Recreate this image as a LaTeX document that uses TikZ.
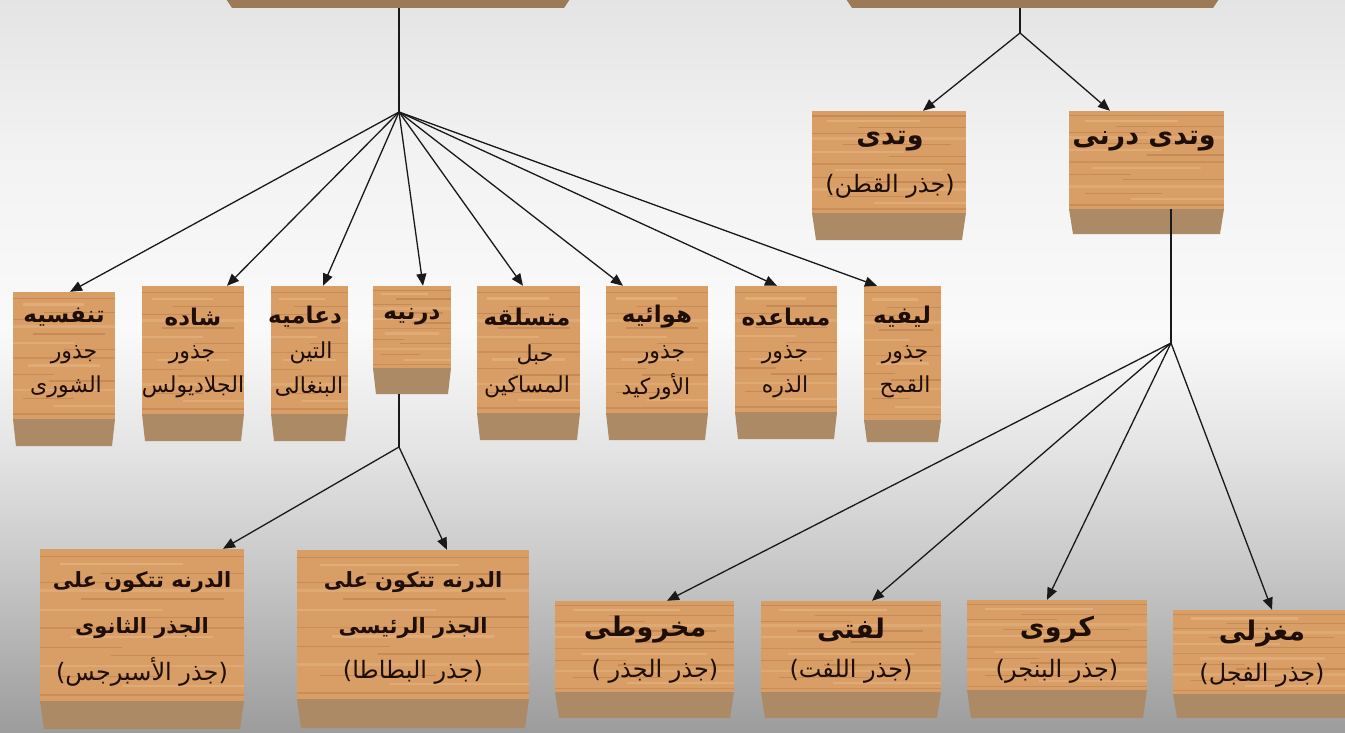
\documentclass[tikz,border=0pt]{standalone}
\usepackage{fontspec}
\newfontfamily\arabicfont[Script=Arabic]{DejaVu Sans}
\TeXXeTstate=1
\usetikzlibrary{arrows.meta,calc}
\definecolor{woodc}{RGB}{216,158,102}
\definecolor{woodd}{RGB}{166,104,56}
\definecolor{woodl}{RGB}{236,192,142}
\definecolor{sidec}{RGB}{172,138,102}
\definecolor{sidet}{RGB}{156,122,88}
\definecolor{txtc}{RGB}{30,14,6}
\definecolor{bga}{RGB}{228,228,228}
\definecolor{bgb}{RGB}{242,242,242}
\definecolor{bgc}{RGB}{250,250,250}
\definecolor{bgd}{RGB}{228,228,228}
\definecolor{bge}{RGB}{202,202,202}
\definecolor{bgf}{RGB}{156,156,156}
\newcommand\rp{\hbox{)}}
\newcommand\lp{\hbox{(}}
\tikzset{
  ln/.style={line width=1.3pt, draw=black!90},
  arr/.style={line width=1.3pt, draw=black!90, -{Triangle[length=12pt,width=10pt]}},
  face/.style={draw=none, fill=woodc, inner sep=0pt, path picture={
    \foreach \f/\a/\b/\o/\w/\c in {0.05/0/1/0.35/1.2/woodd, 0.10/0.1/0.7/0.45/2.5/woodl, 0.16/0.3/1/0.35/1.5/woodd, 0.22/0/0.5/0.35/1/woodd, 0.27/0/1/0.35/3/woodl, 0.33/0.2/0.9/0.35/1.5/woodd, 0.40/0/0.6/0.4/2/woodl, 0.45/0.5/1/0.35/1.2/woodd, 0.52/0/1/0.25/1.5/woodd, 0.58/0.15/0.85/0.4/2.5/woodl, 0.65/0/0.4/0.35/1.2/woodd, 0.70/0.35/1/0.35/1.8/woodd, 0.77/0/1/0.35/2.5/woodl, 0.84/0.1/0.6/0.35/1.2/woodd, 0.90/0.4/1/0.4/2/woodl, 0.96/0/1/0.3/1.5/woodd}{
      \draw[\c, opacity=\o, line width=\w pt]
        let \p1=(path picture bounding box.north west), \p2=(path picture bounding box.south east) in
        ({\x1+\a*(\x2-\x1)},{\y1+\f*(\y2-\y1)}) -- ({\x1+\b*(\x2-\x1)},{\y1+\f*(\y2-\y1)});
    }}},
  ttl/.style={font={\arabicfont\bfseries\fontsize{23}{26}\selectfont}, text=txtc, inner sep=0pt},
  sub/.style={font={\arabicfont\fontsize{22}{26}\selectfont}, text=txtc, inner sep=0pt},
  lttl/.style={font={\arabicfont\bfseries\fontsize{21}{24}\selectfont}, text=txtc, inner sep=0pt},
  lsub/.style={font={\arabicfont\fontsize{24}{28}\selectfont}, text=txtc, inner sep=0pt},
  bttl/.style={font={\arabicfont\bfseries\fontsize{27}{30}\selectfont}, text=txtc, inner sep=0pt},
  bsub/.style={font={\arabicfont\fontsize{24}{28}\selectfont}, text=txtc, inner sep=0pt},
}
% name, x1, x2, ytop, yface, ybot, inset, side colour
\newcommand\woodbox[8]{%
  \fill[#8] (#2,#5) -- (#3,#5) -- (#3-#7,#6) -- (#2+#7,#6) -- cycle;
  \node[face, minimum width={(#3-#2)*1pt}, minimum height={(#5-#4)*1pt}] (#1) at ({(#2+#3)/2},{(#4+#5)/2}) {};
  \coordinate (#1-b) at ({(#2+#3)/2},#6);
  \coordinate (#1-f) at ({(#2+#3)/2},#5);
}
\newcommand\tl[5]{\node[#4] (#1) at (#2,#3) {#5};}
\begin{document}
\begin{tikzpicture}[x=1pt,y=-1pt]
\useasboundingbox (0,0) rectangle (1345,733);
% background
\shade[top color=bga, bottom color=bgb] (0,0) rectangle (1345,150);
\shade[top color=bgb, bottom color=bgc] (0,149.5) rectangle (1345,330);
\shade[top color=bgc, bottom color=bgd] (0,329.5) rectangle (1345,450);
\shade[top color=bgd, bottom color=bge] (0,449.5) rectangle (1345,560);
\shade[top color=bge, bottom color=bgf] (0,559.5) rectangle (1345,733);

% boxes
\woodbox{TL}{226}{570}{-60}{-1}{8}{6}{sidet}
\woodbox{TR}{846}{1219}{-60}{-1}{8}{6}{sidet}
\woodbox{wd}{812}{966}{111}{213}{240}{4}{sidec}
\woodbox{wdd}{1069}{1224}{111}{209}{234}{4}{sidec}
\woodbox{m1}{13}{115}{292}{419}{446}{3}{sidec}
\woodbox{m2}{142}{244}{286}{414}{441}{3}{sidec}
\woodbox{m3}{271}{348}{286}{414}{441}{3}{sidec}
\woodbox{m4}{373}{451}{286}{368}{394}{3}{sidec}
\woodbox{m5}{477}{580}{286}{413}{440}{3}{sidec}
\woodbox{m6}{606}{708}{286}{413}{440}{3}{sidec}
\woodbox{m7}{735}{837}{286}{412}{439}{3}{sidec}
\woodbox{m8}{864}{941}{286}{420}{442}{3}{sidec}
\woodbox{bl1}{40}{244}{549}{701}{729}{4}{sidec}
\woodbox{bl2}{297}{529}{550}{699}{728}{4}{sidec}
\woodbox{br1}{555}{734}{601}{692}{718}{4}{sidec}
\woodbox{br2}{761}{941}{601}{692}{718}{4}{sidec}
\woodbox{br3}{967}{1147}{600}{690}{718}{4}{sidec}
\woodbox{br4}{1173}{1352}{610}{694}{718}{4}{sidec}

% texts
\tl{wdT}{890}{141}{bttl}{\beginR وتدى\endR}
\tl{wdS}{890}{186}{bsub}{\beginR \lp جذر القطن\rp\endR}
\tl{wddT}{1144}{141}{bttl}{\beginR وتدى درنى\endR}

\tl{m1T}{64}{317}{ttl}{\beginR تنفسيه\endR}
\tl{m1A}{74}{355}{sub}{\beginR جذور\endR}
\tl{m1B}{66}{387}{sub}{\beginR الشورى\endR}
\tl{m2T}{193}{317}{ttl}{\beginR شاده\endR}
\tl{m2A}{192}{355}{sub}{\beginR جذور\endR}
\tl{m2B}{193}{387}{sub}{\beginR الجلاديولس\endR}
\tl{m3T}{305}{317}{ttl}{\beginR دعاميه\endR}
\tl{m3A}{311}{353}{sub}{\beginR التين\endR}
\tl{m3B}{309}{387}{sub}{\beginR البنغالى\endR}
\tl{m4T}{412}{317}{ttl}{\beginR درنيه\endR}
\tl{m5T}{527}{317}{ttl}{\beginR متسلقه\endR}
\tl{m5A}{535}{355}{sub}{\beginR حبل\endR}
\tl{m5B}{527}{387}{sub}{\beginR المساكين\endR}
\tl{m6T}{657}{317}{ttl}{\beginR هوائيه\endR}
\tl{m6A}{662}{355}{sub}{\beginR جذور\endR}
\tl{m6B}{656}{387}{sub}{\beginR الأوركيد\endR}
\tl{m7T}{786}{317}{ttl}{\beginR مساعده\endR}
\tl{m7A}{785}{355}{sub}{\beginR جذور\endR}
\tl{m7B}{785}{387}{sub}{\beginR الذره\endR}
\tl{m8T}{902}{317}{ttl}{\beginR ليفيه\endR}
\tl{m8A}{905}{355}{sub}{\beginR جذور\endR}
\tl{m8B}{905}{387}{sub}{\beginR القمح\endR}

\tl{bl1T}{142}{582}{lttl}{\beginR الدرنه تتكون على\endR}
\tl{bl1A}{142}{628}{lttl}{\beginR الجذر الثانوى\endR}
\tl{bl1B}{142}{672}{lsub}{\beginR \lp جذر الأسبرجس\rp\endR}
\tl{bl2T}{413}{582}{lttl}{\beginR الدرنه تتكون على\endR}
\tl{bl2A}{413}{628}{lttl}{\beginR الجذر الرئيسى\endR}
\tl{bl2B}{413}{672}{lsub}{\beginR \lp جذر البطاطا\rp\endR}

\tl{br1T}{645}{630}{bttl}{\beginR مخروطى\endR}
\tl{br1S}{655}{671}{bsub}{\beginR \lp جذر الجذر \rp\endR}
\tl{br2T}{851}{630}{bttl}{\beginR لفتى\endR}
\tl{br2S}{851}{671}{bsub}{\beginR \lp جذر اللفت\rp\endR}
\tl{br3T}{1057}{630}{bttl}{\beginR كروى\endR}
\tl{br3S}{1057}{671}{bsub}{\beginR \lp جذر البنجر\rp\endR}
\tl{br4T}{1262}{634}{bttl}{\beginR مغزلى\endR}
\tl{br4S}{1262}{675}{bsub}{\beginR \lp جذر الفجل\rp\endR}

% hubs
\coordinate (hubA) at (399,112);
\coordinate (hubB) at (1020,33);
\coordinate (hubC) at (1171,343);
\coordinate (hubD) at (399,447);

% connectors
\draw[ln] (hubA |- TL-b) -- (hubA);
\draw[ln] (hubB |- TR-b) -- (hubB);
\draw[ln] (hubC |- wdd-f) -- (hubC);
\draw[ln] (hubD |- m4-b) -- (hubD);

\draw[arr] (hubB) -- (923,0 |- wd.north);
\draw[arr] (hubB) -- (1110,0 |- wdd.north);

\draw[arr] (hubA) -- (70,0 |- m1.north);
\draw[arr] (hubA) -- (227,0 |- m2.north);
\draw[arr] (hubA) -- (323,0 |- m3.north);
\draw[arr] (hubA) -- (423,0 |- m4.north);
\draw[arr] (hubA) -- (523,0 |- m5.north);
\draw[arr] (hubA) -- (623,0 |- m6.north);
\draw[arr] (hubA) -- (777,0 |- m7.north);
\draw[arr] (hubA) -- (877,0 |- m8.north);

\draw[arr] (hubD) -- (223,0 |- bl1.north);
\draw[arr] (hubD) -- (447,0 |- bl2.north);

\draw[arr] (hubC) -- (667,0 |- br1.north);
\draw[arr] (hubC) -- (872,0 |- br2.north);
\draw[arr] (hubC) -- (1047,0 |- br3.north);
\draw[arr] (hubC) -- (1272,0 |- br4.north);
\end{tikzpicture}
\end{document}
